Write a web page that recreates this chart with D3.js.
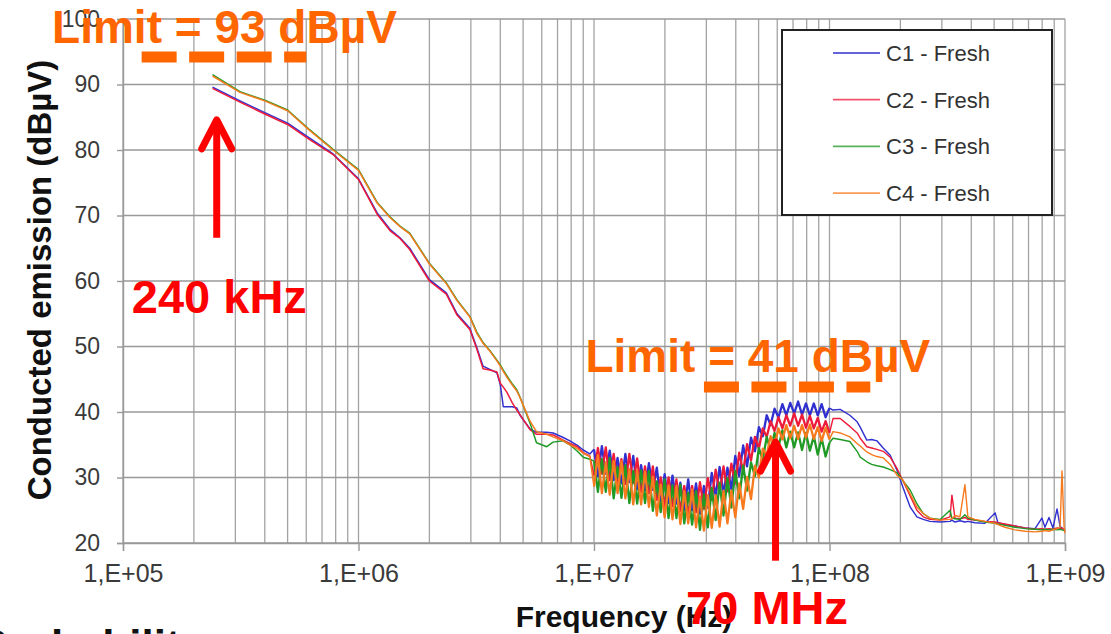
<!DOCTYPE html>
<html><head><meta charset="utf-8">
<script src="https://cdn.jsdelivr.net/npm/d3@7"></script>
<style>
html,body{margin:0;padding:0;background:#fff;}
svg{display:block;font-family:"Liberation Sans",Arial,sans-serif;}
</style></head>
<body><svg id="c" width="1111" height="634"></svg>
<script>
// ---------- DATA ----------
const seriesNames = ["C1 - Fresh","C2 - Fresh","C3 - Fresh","C4 - Fresh"];
const seriesColors = ["#3030d0","#ee1a3a","#1f9a25","#f77a1e"];
const xTickValues = [1e5,1e6,1e7,1e8,1e9];
const xTickLabels = ["1,E+05","1,E+06","1,E+07","1,E+08","1,E+09"];
const yTickValues = [20,30,40,50,60,70,80,90,100];
const yTickLabels = ["20","30","40","50","60","70","80","90","100"];

// low band (Hz)
const lowFreq = [2.4e5,3.14e5,4.0e5,5.0e5,6.2e5,7.8e5,1.0e6,1.2e6,1.36e6,1.5e6,1.65e6,2.0e6,2.36e6,2.62e6,2.97e6,3.18e6,3.38e6,3.61e6,3.87e6,4.0e6,4.12e6,4.27e6,4.5e6,4.7e6,4.85e6,5.35e6,5.7e6,6.3e6,6.7e6,7.4e6,7.9e6,8.5e6,9.0e6,9.6e6];
const c1Low = [89.6,87.5,85.7,84.1,81.8,79.4,75.6,70.4,67.9,66.6,65.0,60.2,58.2,55.0,52.8,49.8,47.0,46.5,46.0,44.2,40.8,40.8,40.8,40.6,39.5,37.4,36.9,36.9,36.8,36.1,35.6,34.9,34.2,33.6];
const c2Low = [89.4,87.3,85.5,83.9,81.6,79.3,75.5,70.2,67.7,66.5,64.8,60.0,58.0,54.8,52.6,49.6,46.6,46.4,46.1,44.4,43.8,43.0,41.4,40.3,39.6,37.3,36.6,36.6,36.5,35.7,35.2,34.7,33.8,33.3];
const c3Low = [91.5,88.9,87.6,86.1,83.1,80.1,77.0,72.0,69.8,68.4,67.3,62.7,59.7,57.1,54.6,52.2,50.6,49.4,47.9,47.2,46.4,45.5,44.3,43.4,42.3,38.3,35.3,34.7,35.4,35.6,35.0,34.0,33.1,32.8];
const c4Low = [91.3,88.8,87.5,86.0,83.0,80.0,76.9,71.9,69.7,68.3,67.2,62.6,59.6,57.0,54.5,52.0,50.5,49.3,47.8,47.0,46.2,45.3,44.1,43.2,42.2,38.6,37.0,36.6,36.2,35.6,35.0,34.4,33.7,33.2];

// mid band (MHz), noisy sweep
const midFreqMHz = [10.00,10.39,10.80,11.22,11.66,12.12,12.59,13.08,13.59,14.13,14.68,15.25,15.85,16.47,17.11,17.78,18.48,19.20,19.95,20.73,21.54,22.39,23.26,24.17,25.12,26.10,27.12,28.18,29.29,30.43,31.62,32.86,34.15,35.48,36.87,38.31,39.81,41.37,42.99,44.67,46.42,48.23,50.12,52.08,54.12,56.23,58.43,60.72,63.10,65.57,68.13,70.79,73.56,76.44,79.43,82.54,85.77,89.13,92.61,96.24,100.0];
const c1Mid = [34.3,30.2,34.8,30.6,34.1,29.6,33.0,29.1,33.6,29.3,33.3,28.2,31.9,28.0,32.2,28.1,31.5,26.4,30.5,26.1,30.3,26.0,29.2,25.0,29.7,25.0,29.1,24.5,28.7,25.4,30.7,27.2,31.6,27.5,31.5,28.2,33.3,30.2,34.9,31.7,36.1,34.0,37.7,36.3,39.5,38.0,40.5,39.2,41.2,39.5,41.4,39.8,41.6,39.6,41.3,39.5,41.3,39.5,41.2,39.2,40.6];
const c2Mid = [30.3,34.5,30.6,34.6,29.6,33.6,29.0,32.8,29.0,33.6,29.2,32.9,27.8,31.7,27.6,31.7,26.6,30.0,25.6,30.0,25.6,29.7,24.9,28.7,24.2,28.7,24.7,29.3,25.2,29.9,26.6,31.2,27.6,31.7,27.9,32.1,29.1,33.8,30.8,35.1,32.6,36.2,34.4,37.5,36.2,38.6,37.1,39.2,37.5,39.5,37.9,39.8,37.9,39.6,37.6,39.4,37.5,39.1,37.0,38.6,36.8];
const c3Mid = [32.5,27.8,32.8,27.8,33.0,26.8,31.6,26.9,31.9,26.1,31.0,26.0,31.1,26.1,31.0,24.9,29.4,24.7,29.7,23.8,28.8,23.8,28.9,23.0,27.7,22.8,27.9,22.0,27.4,22.4,28.4,23.5,29.2,24.2,29.9,25.4,31.0,26.8,31.8,28.0,32.3,30.2,34.5,32.7,36.2,34.1,36.8,34.7,37.2,34.6,37.0,34.6,36.9,34.2,36.8,34.1,36.3,33.5,36.0,33.2,35.3];
const c4Mid = [28.6,33.4,27.6,32.3,27.4,32.5,27.6,32.5,26.8,31.3,25.9,31.1,25.9,30.9,25.5,30.1,24.2,28.9,23.9,28.8,23.6,28.7,22.9,27.9,23.0,28.2,22.4,27.1,21.9,27.3,22.3,27.3,22.5,28.0,23.0,28.0,23.9,29.1,25.2,30.1,26.7,31.8,30.0,34.4,33.4,36.3,34.9,37.5,35.8,38.0,36.0,37.9,35.9,38.0,36.1,38.1,35.9,37.7,35.6,37.6,35.8];

// high band (MHz)
const highFreqMHz = [103.5,111,122,131,135,144,151,159,169,181,194,205,220,235,250,267,295,325,331,341,358,376,387,415,457,505,519,556,613,676,746,798,822,855,889,925,953,971,991,1000];
const c1High = [40.3,40.4,39.5,38.5,37.7,35.7,35.8,35.6,34.5,33.4,31.0,28.5,25.5,24.0,23.6,23.3,23.2,23.3,23.5,23.2,23.4,23.2,23.3,23.1,23.0,24.6,23.1,22.8,22.6,22.3,22.2,23.8,22.4,23.9,22.3,25.2,22.5,22.3,22.0,21.9];
const c2High = [39.0,39.0,37.8,36.8,36.0,34.7,34.5,34.3,34.0,33.1,31.3,29.5,27.2,25.0,24.0,23.6,23.5,24.0,27.3,23.8,23.7,23.9,23.6,23.5,23.3,23.2,23.1,22.9,22.6,22.3,22.1,22.2,22.1,22.2,22.1,22.3,22.2,22.3,22.0,21.9];
const c3High = [36.0,35.8,35.5,34.0,33.1,32.4,32.0,31.8,31.6,31.2,30.7,29.5,28.1,26.0,24.5,23.8,23.6,25.0,23.8,23.7,23.6,24.3,23.8,23.5,23.2,23.0,22.9,22.7,22.4,22.2,22.1,22.0,22.1,22.0,22.1,22.0,22.1,22.0,21.9,21.8];
const c4High = [37.0,36.8,36.2,35.2,34.8,33.9,33.5,33.2,33.0,32.0,30.3,29.6,27.5,25.5,24.5,23.8,23.5,23.6,23.7,24.2,24.0,28.9,24.0,23.6,23.3,23.0,22.8,22.4,22.0,21.8,21.7,21.8,21.9,21.8,22.0,22.2,22.4,31.0,22.5,21.5];

// annotations (data units)
const limitLabels = [
  {text:"Limit = 93 dBµV", f:5.0e4, v:96.3, lineFrom:1.2e5, lineTo:6.0e5, lineV:94.2},
  {text:"Limit = 41 dBµV", f:9.2e6, v:46.1, lineFrom:2.93e7, lineTo:1.49e8, lineV:43.8}
];
const arrowNotes = [
  {text:"240 kHz", f:2.5e5, tip:84.9, tail:66.6, labelF:1.09e5, labelV:55.1},
  {text:"70 MHz", f:5.9e7, tip:35.7, tail:17.3, labelF:2.46e7, labelV:7.6}
];

// ---------- CHART ----------
const svg = d3.select("#c");
const font = '"Liberation Sans",Arial,sans-serif';
const x = d3.scaleLog().domain([1e5,1e9]).range([123,1065]);
const y = d3.scaleLinear().domain([20,100]).range([543,19]);

// grid
const g = svg.append("g");
g.selectAll("line.vg").data(x.ticks()).join("line")
  .attr("x1",d=>x(d)).attr("x2",d=>x(d)).attr("y1",y(20)).attr("y2",y(100))
  .attr("stroke","#a3a3a3").attr("stroke-width",1.3);
g.selectAll("line.hg").data(yTickValues).join("line")
  .attr("x1",x(1e5)).attr("x2",x(1e9)).attr("y1",d=>y(d)).attr("y2",d=>y(d))
  .attr("stroke","#999").attr("stroke-width",1.4);

// axes
const xAxis = d3.axisBottom(x).tickValues(xTickValues).tickSize(8).tickPadding(13)
  .tickFormat((d,i)=>xTickLabels[i]);
const gx = svg.append("g").attr("transform",`translate(0,${y(20)})`).call(xAxis);
gx.select(".domain").attr("stroke","#999").attr("stroke-width",1.4);
gx.selectAll(".tick line").attr("stroke","#999").attr("stroke-width",1.4);
gx.selectAll("text").attr("font-family",font).attr("font-size",25).attr("fill","#3a3a3a");

const yAxis = d3.axisLeft(y).tickValues(yTickValues).tickSize(6).tickPadding(17)
  .tickFormat((d,i)=>yTickLabels[i]);
const gy = svg.append("g").attr("transform",`translate(${x(1e5)},0)`).call(yAxis);
gy.select(".domain").attr("stroke","#999").attr("stroke-width",1.4);
gy.selectAll(".tick line").attr("stroke","#999").attr("stroke-width",1.4);
gy.selectAll("text").attr("font-family",font).attr("font-size",23).attr("fill","#3a3a3a");

// axis titles
svg.append("text").attr("x",624).attr("y",627).attr("text-anchor","middle")
  .attr("font-family",font).attr("font-weight","bold").attr("font-size",30).attr("fill","#111")
  .text("Frequency (Hz)");
svg.append("text").attr("transform","translate(51,280) rotate(-90)").attr("text-anchor","middle")
  .attr("font-family",font).attr("font-weight","bold").attr("font-size",33).attr("fill","#111")
  .text("Conducted emission (dBµV)");
svg.append("text").attr("x",205).attr("y",661).attr("text-anchor","end")
  .attr("font-family",font).attr("font-weight","bold").attr("font-size",44).attr("fill","#111")
  .text("Probability");

// series
const lows = [c1Low,c2Low,c3Low,c4Low];
const mids = [c1Mid,c2Mid,c3Mid,c4Mid];
const highs = [c1High,c2High,c3High,c4High];
const series = seriesNames.map((name,k)=>{
  const low = lowFreq.map((f,i)=>[f,lows[k][i]]);
  const mid = midFreqMHz.map((f,i)=>[f*1e6,mids[k][i]]);
  const high = highFreqMHz.map((f,i)=>[f*1e6,highs[k][i]]);
  return {name,color:seriesColors[k],low,mid,high};
});
const line = d3.line().x(d=>x(d[0])).y(d=>y(d[1]));
const sg = svg.append("g").selectAll("g").data(series).join("g");
sg.append("path")
  .attr("d",d=>line(d.low.concat([d.mid[0]])))
  .attr("fill","none").attr("stroke",d=>d.color).attr("stroke-width",1.5).attr("stroke-linejoin","round");
sg.append("path")
  .attr("d",d=>line(d.mid))
  .attr("fill","none").attr("stroke",d=>d.color).attr("stroke-width",2.3).attr("stroke-linejoin","round");
sg.append("path")
  .attr("d",d=>line([d.mid[d.mid.length-1]].concat(d.high)))
  .attr("fill","none").attr("stroke",d=>d.color).attr("stroke-width",1.4).attr("stroke-linejoin","round");

// legend
const lg = svg.append("g");
lg.append("rect").attr("x",782).attr("y",30).attr("width",270).attr("height",185)
  .attr("fill","#fff").attr("stroke","#222").attr("stroke-width",2);
const rows = lg.selectAll("g.row").data(series).join("g")
  .attr("transform",(d,i)=>`translate(0,${53+i*46.7})`);
rows.append("line").attr("x1",833).attr("x2",880).attr("y1",0).attr("y2",0)
  .attr("stroke",d=>d.color).attr("stroke-width",1.8).attr("opacity",0.75);
rows.append("text").attr("x",886).attr("y",8).attr("font-family",font).attr("font-size",22)
  .attr("fill","#333").text(d=>d.name);

// limit annotations
const orange = "#ff6600";
limitLabels.forEach(l=>{
  svg.append("line").attr("x1",x(l.lineFrom)).attr("x2",x(l.lineTo))
    .attr("y1",y(l.lineV)).attr("y2",y(l.lineV))
    .attr("stroke",orange).attr("stroke-width",11).attr("stroke-dasharray","35,12.5");
  svg.append("text").attr("x",x(l.f)).attr("y",y(l.v)).attr("font-family",font)
    .attr("font-weight","bold").attr("font-size",46).attr("fill",orange).text(l.text);
});

// arrows
arrowNotes.forEach(a=>{
  const ax = x(a.f), ty = y(a.tip), by = y(a.tail);
  svg.append("line").attr("x1",ax).attr("x2",ax).attr("y1",ty+4).attr("y2",by)
    .attr("stroke","#ff0000").attr("stroke-width",7);
  svg.append("path").attr("d",`M${ax-15},${ty+31}L${ax},${ty+2}L${ax+15},${ty+31}`)
    .attr("fill","none").attr("stroke","#ff0000").attr("stroke-width",7)
    .attr("stroke-linecap","round").attr("stroke-linejoin","round");
  svg.append("text").attr("x",x(a.labelF)).attr("y",y(a.labelV)).attr("font-family",font)
    .attr("font-weight","bold").attr("font-size",47).attr("fill","#ff0000").text(a.text);
});
</script></body></html>
